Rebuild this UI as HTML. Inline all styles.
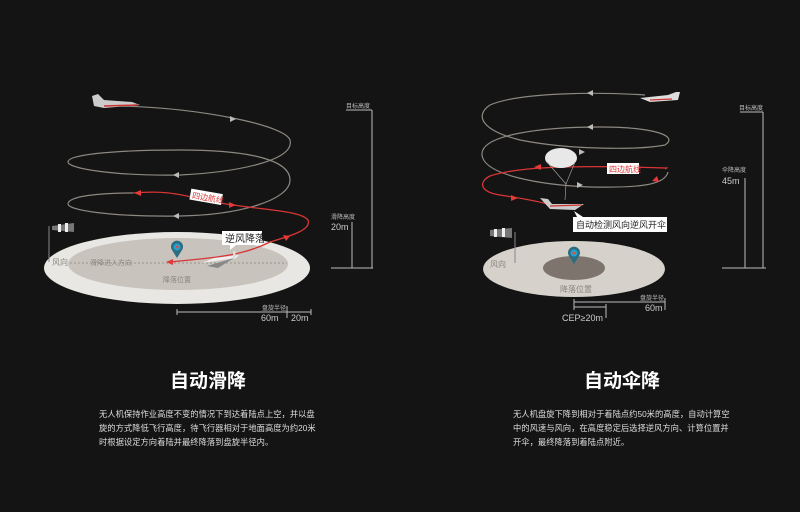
<!DOCTYPE html>
<html><head><meta charset="utf-8"><style>
html,body{margin:0;padding:0;background:#141414;width:800px;height:512px;overflow:hidden}
svg{display:block}
text{font-family:"Liberation Sans","Noto Sans CJK SC",sans-serif}
</style></head><body>
<svg width="800" height="512" viewBox="0 0 800 512" xmlns="http://www.w3.org/2000/svg">
<rect width="800" height="512" fill="#141414"/>

<!-- LEFT DIAGRAM -->
<ellipse cx="177" cy="268" rx="133" ry="36" fill="#e9e7e3"/>
<ellipse cx="178" cy="264" rx="110" ry="26" fill="#c8c3bc"/>
<line x1="70" y1="263" x2="287" y2="263" stroke="#9a948e" stroke-width="1" stroke-dasharray="2,2"/>
<text x="52" y="265" font-size="8" fill="#8a857f">风向</text>
<text x="90" y="265" font-size="7" fill="#8a857f">滑降进入方向</text>
<text x="163" y="282" font-size="7" fill="#8a857f">降落位置</text>
<g fill="none" stroke="#8d8881" stroke-width="1.2">
<path d="M120,106 C200,108 285,125 290,140 C295,160 240,172 180,175 C110,176 68,168 68,162 C68,154 120,150 180,150 C250,150 290,160 290,180 C290,200 240,215 180,216 C110,217 68,210 68,204 C68,196 100,193 133,193"/>
</g>
<path d="M236,119 l-6,-3 l0,6z" fill="#bbb"/>
<path d="M173,175 l6,-3 l0,6z" fill="#bbb"/>
<path d="M173,216 l6,-3 l0,6z" fill="#bbb"/>
<path d="M133,193 C170,190 180,195 220,203 C260,210 300,210 308,220 C312,230 290,236 270,242 C250,252 230,256 200,259 L170,262" fill="none" stroke="#d93535" stroke-width="1.3"/>
<path d="M134,193 l7,-3 l0,6z" fill="#e23a3a"/>
<path d="M236,205 l-7,-3 l0,6z" fill="#e23a3a"/>
<path d="M290,236 l-7,-1 l3,6z" fill="#e23a3a"/>
<path d="M166,262 l7,-3 l0,6z" fill="#e23a3a"/>
<g transform="rotate(10 210 198)"><rect x="190" y="192" width="32" height="11" fill="#fff"/><text x="192" y="201" font-size="8" fill="#d93535">四边航线</text></g>
<rect x="222" y="231" width="40" height="14" fill="#fff"/>
<path d="M230,245 l0,5 l6,-5z" fill="#fff"/>
<text x="225" y="242" font-size="10" fill="#222">逆风降落</text>
<path d="M177,258 L172,250 A6,6 0 1 1 182,250z" fill="#2d6d80"/>
<circle cx="177" cy="247" r="3.5" fill="#1ea4d8"/><circle cx="177" cy="247" r="1.5" fill="#e0503a"/>
<path d="M202,263 L236,258 L239,255 L214,258z" fill="#eee"/>
<rect x="233" y="251" width="2.5" height="8" fill="#ddd"/>
<path d="M207,266 L234,258 L218,268z" fill="#888"/>
<path d="M92,96 L98,94 L104,100 L132,102 L140,105 L104,108 L94,106z" fill="#ccc"/>
<path d="M104,106 L138,105" stroke="#c33" stroke-width="1.5"/>
<line x1="49" y1="226" x2="49" y2="262" stroke="#888" stroke-width="1"/>
<path d="M52,226 L74,223 L74,232 L52,230z" fill="#777"/>
<rect x="58" y="224" width="3" height="8" fill="#eee"/><rect x="65" y="223" width="3" height="9" fill="#eee"/>
<g stroke="#bbb" stroke-width="1" fill="none">
<line x1="346" y1="110" x2="372" y2="110"/><line x1="372" y1="110" x2="372" y2="268"/>
<line x1="352" y1="222" x2="352" y2="268"/><line x1="331" y1="268" x2="373" y2="268"/>
<line x1="177" y1="312" x2="311" y2="312"/><line x1="177" y1="309" x2="177" y2="315"/>
<line x1="287" y1="306" x2="287" y2="318"/><line x1="311" y1="309" x2="311" y2="315"/>
</g>
<text x="346" y="108" font-size="6" fill="#bbb">目标高度</text>
<text x="331" y="219" font-size="6" fill="#bbb">滑降高度</text>
<text x="331" y="230" font-size="9" fill="#ccc">20m</text>
<text x="262" y="310" font-size="6" fill="#bbb">盘旋半径</text>
<text x="261" y="321" font-size="9" fill="#ccc">60m</text>
<text x="291" y="321" font-size="9" fill="#ccc">20m</text>

<!-- RIGHT DIAGRAM -->
<ellipse cx="574" cy="269" rx="91" ry="28" fill="#d6d1cb"/>
<ellipse cx="574" cy="268" rx="31" ry="12" fill="#7d746d"/>
<text x="560" y="292" font-size="8" fill="#8a857f">降落位置</text>
<text x="490" y="267" font-size="8" fill="#8a857f">风向</text>
<line x1="515" y1="232" x2="515" y2="263" stroke="#888"/>
<path d="M490,230 L512,228 L512,238 L490,236z" fill="#777"/>
<rect x="494" y="229" width="3" height="8" fill="#eee"/><rect x="502" y="228" width="3" height="9" fill="#eee"/>
<path d="M574,264 L569,256 A6,6 0 1 1 579,256z" fill="#2d6d80"/>
<circle cx="574" cy="253" r="3.5" fill="#1ea4d8"/><circle cx="574" cy="253" r="1.5" fill="#e0503a"/>
<g fill="none" stroke="#8d8881" stroke-width="1.2">
<path d="M645,95 C600,92 520,92 490,105 C475,115 480,130 520,140 C570,150 640,150 665,145 C680,135 650,127 600,127 C540,127 480,135 482,155 C484,175 540,185 590,187 C640,188 665,185 668,172"/>
</g>
<path d="M587,93 l6,-3 l0,6z" fill="#bbb"/>
<path d="M587,127 l6,-3 l0,6z" fill="#bbb"/>
<path d="M585,152 l-6,-3 l0,6z" fill="#bbb"/>
<path d="M583,185 l-6,-3 l0,6z" fill="#bbb"/>
<path d="M665,169 C668,167 668,168 665,168 L630,167 C580,166 520,166 490,176 C478,182 480,192 500,195 C520,198 540,202 548,204" fill="none" stroke="#d93535" stroke-width="1.3"/>
<path d="M534,167 l7,-3 l0,6z" fill="#e23a3a"/>
<path d="M657,176 l-5,5 l7,1z" fill="#e23a3a"/>
<path d="M518,198 l-7,-3 l0,6z" fill="#e23a3a"/>
<rect x="607" y="163" width="32" height="11" fill="#fff"/>
<text x="609" y="172" font-size="8" fill="#d93535">四边航线</text>
<ellipse cx="561" cy="158" rx="16" ry="10" fill="#e8e8e8"/>
<g stroke="#aaa" stroke-width="0.6"><line x1="547" y1="162" x2="566" y2="184"/><line x1="575" y1="162" x2="566" y2="184"/><line x1="566" y1="184" x2="565" y2="200"/></g>
<path d="M540,198 L548,199 L552,204 L584,204 L575,210 L550,209z" fill="#ccc"/>
<path d="M550,206 L582,205" stroke="#c33" stroke-width="1.2"/>
<path d="M640,98 L668,95 L676,92 L680,92 L678,100 L650,102z" fill="#ddd"/>
<path d="M650,100 L672,99" stroke="#c33" stroke-width="1.2"/>
<rect x="573" y="217" width="94" height="15" fill="#fff"/>
<path d="M577,217 l-3,-6 l9,6z" fill="#fff"/>
<text x="576" y="228" font-size="9" fill="#222">自动检测风向逆风开伞</text>
<g stroke="#bbb" stroke-width="1" fill="none">
<line x1="740" y1="112" x2="763" y2="112"/><line x1="763" y1="112" x2="763" y2="268"/>
<line x1="745" y1="178" x2="745" y2="268"/><line x1="722" y1="268" x2="766" y2="268"/>
<line x1="574" y1="302" x2="665" y2="302"/><line x1="574" y1="299" x2="574" y2="310"/><line x1="665" y1="298" x2="665" y2="310"/>
<line x1="574" y1="307" x2="606" y2="307"/><line x1="606" y1="304" x2="606" y2="318"/>
</g>
<text x="739" y="110" font-size="6" fill="#bbb">目标高度</text>
<text x="722" y="172" font-size="6" fill="#bbb">伞降高度</text>
<text x="722" y="184" font-size="9" fill="#ccc">45m</text>
<text x="640" y="300" font-size="6" fill="#bbb">盘旋半径</text>
<text x="645" y="311" font-size="9" fill="#ccc">60m</text>
<text x="562" y="321" font-size="9" fill="#ccc">CEP≥20m</text>

<text x="208" y="387" font-size="19" font-weight="bold" fill="#fff" text-anchor="middle">自动滑降</text>
<text x="622" y="387" font-size="19" font-weight="bold" fill="#fff" text-anchor="middle">自动伞降</text>
<g font-size="8.3" fill="#ddd">
<text x="99" y="417">无人机保持作业高度不变的情况下到达着陆点上空，并以盘</text>
<text x="99" y="431">旋的方式降低飞行高度，待飞行器相对于地面高度为约20米</text>
<text x="99" y="445">时根据设定方向着陆并最终降落到盘旋半径内。</text>
<text x="513" y="417">无人机盘旋下降到相对于着陆点约50米的高度，自动计算空</text>
<text x="513" y="431">中的风速与风向，在高度稳定后选择逆风方向、计算位置并</text>
<text x="513" y="445">开伞，最终降落到着陆点附近。</text>
</g>
</svg>
</body></html>
